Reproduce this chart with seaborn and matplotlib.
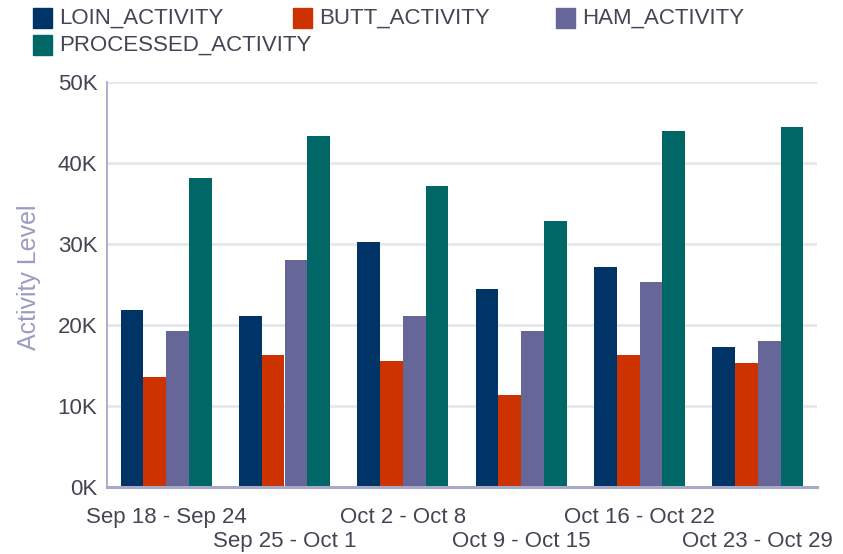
import matplotlib
matplotlib.use('Agg')
import matplotlib.pyplot as plt
from matplotlib.patches import Rectangle
import seaborn as sns
import pandas as pd

weeks = ['Sep 18 - Sep 24', 'Sep 25 - Oct 1', 'Oct 2 - Oct 8',
         'Oct 9 - Oct 15', 'Oct 16 - Oct 22', 'Oct 23 - Oct 29']
series = ['LOIN_ACTIVITY', 'BUTT_ACTIVITY', 'HAM_ACTIVITY', 'PROCESSED_ACTIVITY']
loin = [21800, 21100, 30200, 24500, 27200, 17300]
butt = [13600, 16300, 15600, 11400, 16300, 15300]
ham = [19200, 28000, 21100, 19200, 25300, 18000]
processed = [38100, 43300, 37100, 32900, 44000, 44500]
colors = ['#003366', '#cc3300', '#666699', '#006666']

df = pd.DataFrame({
    'week': weeks * 4,
    'series': [s for s in series for _ in weeks],
    'value': loin + butt + ham + processed,
})

sns.set_style('white')
plt.rcParams['font.family'] = ['Liberation Sans', 'DejaVu Sans']

fig = plt.figure(figsize=(8.43, 5.54), dpi=100)
ax = fig.add_axes([107 / 843, 1 - 487 / 554, (817 - 107) / 843, (487 - 82) / 554])

sns.barplot(data=df, x='week', y='value', hue='series', palette=colors,
            width=0.77, gap=0, saturation=1, linewidth=0, ax=ax, legend=False)

ax.set_ylim(0, 50000)
ax.set_yticks([0, 10000, 20000, 30000, 40000, 50000])
ax.set_yticklabels(['0K', '10K', '20K', '30K', '40K', '50K'])
ax.grid(axis='y', color='#e6e6ee', linewidth=2)
ax.set_axisbelow(True)

tick_col = '#444455'
ax.tick_params(axis='both', length=0, labelsize=16, labelcolor=tick_col)
ax.tick_params(axis='y', pad=7)
ax.set_xticks(range(len(weeks)))
ax.set_xticklabels(weeks)
# staggered week labels
for i, tick in enumerate(ax.xaxis.get_major_ticks()):
    tick.set_pad(14.5 if i % 2 == 0 else 32)

ax.set_xlabel('')
ax.set_ylabel('Activity Level', fontsize=18, color='#9c9cc0')
ax.yaxis.set_label_coords(-0.093, 0.517)

for side in ['top', 'right']:
    ax.spines[side].set_visible(False)
ax.spines['left'].set_color('#a8a8c8')
ax.spines['left'].set_linewidth(1.3)
ax.spines['bottom'].set_color('#a8a8c8')
ax.spines['bottom'].set_linewidth(2.2)

# legend laid out as a grid, like the original
W, H = 843, 554
spots = [(33, 18), (293, 18), (556, 18), (33, 45)]
for (px, py), name, col in zip(spots, series, colors):
    fig.patches.append(Rectangle((px / W, 1 - (py + 10) / H), 19 / W, 20 / H,
                                 transform=fig.transFigure, color=col))
    fig.text((px + 26) / W, 1 - py / H, name, fontsize=16, color=tick_col,
             va='center', ha='left')

fig.savefig('out.png', dpi=100)
